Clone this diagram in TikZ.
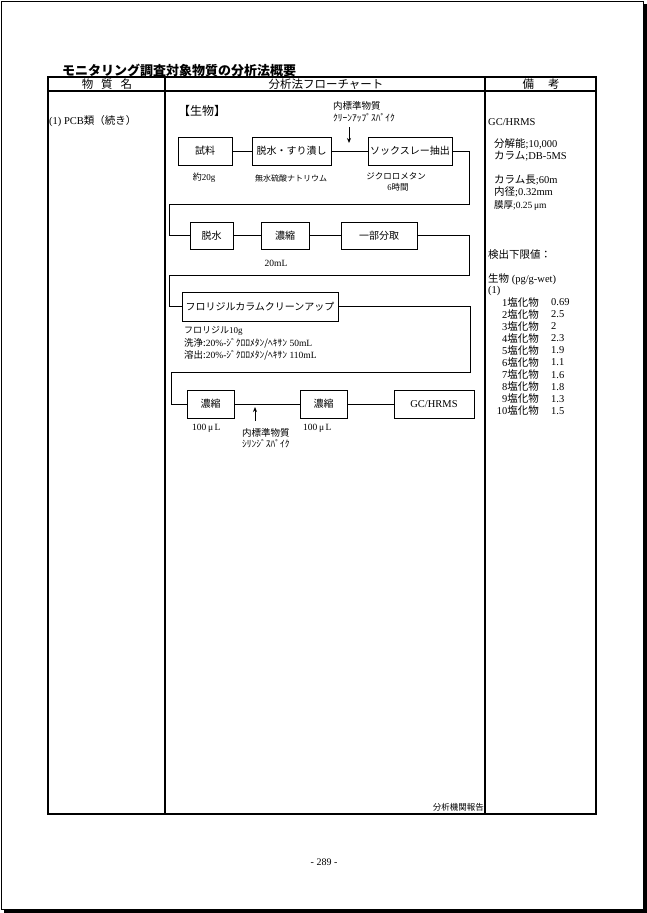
\documentclass[tikz,border=0pt]{standalone}
\usepackage{fontspec}
\setmainfont{Liberation Serif}
\newfontfamily\jpfont{Noto Sans CJK JP}
\newcommand\jp[1]{{\jpfont #1}}
\usetikzlibrary{arrows.meta, positioning}

\begin{document}
\begin{tikzpicture}[
    x=1pt, y=-1pt,
    >={Stealth[length=5pt, width=4pt]},
    stepbox/.style={draw, line width=0.9pt, minimum height=28pt, inner sep=2pt,
        font=\jpfont\fontsize{10}{12}\selectfont},
    note/.style={inner sep=0pt, font=\fontsize{9.5}{11}\selectfont},
    small/.style={inner sep=0pt, anchor=west, font=\fontsize{9.5}{11}\selectfont},
    remark/.style={inner sep=0pt, anchor=west, font=\fontsize{10.5}{12}\selectfont},
    head/.style={inner sep=0pt, font=\jpfont\fontsize{11.5}{13}\selectfont},
    flow/.style={line width=0.9pt},
    frame/.style={line width=1.1pt}
]
\useasboundingbox (0,0) rectangle (647,913);
% page outline with shadow
\draw[line width=0.8pt] (1.5,1.5) rectangle (643,909);
\fill (643,4) -- (647,4) -- (647,913) -- (4,913) -- (4,909) -- (643,909) -- cycle;

% title and table
\node[inner sep=0pt, anchor=west, font=\jpfont\bfseries\fontsize{13}{15}\selectfont] (title) at (62,70) {モニタリング調査対象物質の分析法概要};
\draw[frame] (48,77) rectangle (596,814);
\draw[frame] (48,91) -- (596,91);
\draw[frame] (165,77) -- (165,814);
\draw[frame] (485,77) -- (485,814);
\node[head] (hsubst) at (107,84) {物\hspace{8pt}質\hspace{8pt}名};
\node[head] (hflow) at (326,84) {分析法フローチャート};
\node[head] (hnote) at (541,84) {備\hspace{14pt}考};

\node[remark] (subst) at (49,121) {(1) PCB\jp{類（続き）}};
\node[inner sep=0pt, anchor=west, font=\jpfont\fontsize{12}{14}\selectfont] (matrix) at (178,111) {【生物】};

% row 1
\node[stepbox, minimum width=54pt] (sample) at (205,151) {試料};
\node[stepbox, minimum width=79pt] (grind) at (291.5,151) {脱水・すり潰し};
\node[stepbox, minimum width=84pt] (soxhlet) at (410,151) {ソックスレー抽出};
\node[note, font=\fontsize{9}{10}\selectfont] (samplenote) at (204,178) {\jp{約}20g};
\node[note, font=\fontsize{8}{10}\selectfont] (grindnote) at (291,178) {\jp{無水硫酸ナトリウム}};
\node[note, font=\fontsize{8.5}{10}\selectfont] (soxnote) at (396,176) {\jp{ジクロロメタン}};
\node[note, font=\fontsize{8.5}{10}\selectfont] (soxtime) at (398,187) {6\jp{時間}};
\node[small, font=\jpfont\fontsize{9.5}{11}\selectfont] (spikeA) at (333,106) {内標準物質};
\node[small, font=\jpfont\fontsize{9.5}{11}\selectfont] (spikeAsub) at (333,118) {ｸﾘｰﾝｱｯﾌﾟｽﾊﾟｲｸ};
\coordinate (spikeAtop) at (349,127);
\coordinate (spikeAtip) at (349,143);

% row 2
\node[stepbox, minimum width=43pt, minimum height=27pt] (dry) at (211.5,235.5) {脱水};
\node[stepbox, minimum width=48pt, minimum height=27pt] (concA) at (285,235.5) {濃縮};
\node[stepbox, minimum width=76pt, minimum height=27pt] (split) at (379,235.5) {一部分取};
\node[note] (concAnote) at (276,263) {20mL};

% row 3
\node[stepbox, minimum width=156pt, minimum height=29pt] (florisil) at (260,306.5) {フロリジルカラムクリーンアップ};
\node[small, font=\fontsize{9}{11}\selectfont] (florA) at (184,331) {\jp{フロリジル}10g};
\node[small] (florB) at (184,343) {\jp{洗浄:}20\%-\jp{ｼﾞｸﾛﾛﾒﾀﾝ/ﾍｷｻﾝ} 50mL};
\node[small] (florC) at (184,355) {\jp{溶出:}20\%-\jp{ｼﾞｸﾛﾛﾒﾀﾝ/ﾍｷｻﾝ} 110mL};

% row 4
\node[stepbox, minimum width=47pt] (concB) at (210.5,404) {濃縮};
\node[stepbox, minimum width=47pt] (concC) at (323.5,404) {濃縮};
\node[stepbox, minimum width=80pt, font=\fontsize{10.5}{12}\selectfont] (gcms) at (434,404) {GC/HRMS};
\node[small] (concBnote) at (192,428) {100\,μ\,L};
\node[small] (concCnote) at (303,428) {100\,μ\,L};
\node[small, font=\jpfont\fontsize{9.5}{11}\selectfont] (spikeB) at (242,433) {内標準物質};
\node[small, font=\jpfont\fontsize{9.5}{11}\selectfont] (spikeBsub) at (242,444) {ｼﾘﾝｼﾞｽﾊﾟｲｸ};
\coordinate (spikeBbot) at (255,421);
\coordinate (spikeBtip) at (255,407);

% connectors
\draw[flow, ->] (spikeAtop) -- (spikeAtip);
\draw[flow] (sample) -- (grind);
\draw[flow] (grind) -- (soxhlet);
\draw[flow] (soxhlet.east) -| (469,204) -| (169,235.5) -- (dry.west);
\draw[flow] (dry) -- (concA);
\draw[flow] (concA) -- (split);
\draw[flow] (split.east) -| (469,275) -| (169,306.5) -- (florisil.west);
\draw[flow] (florisil.east) -| (470,372) -| (171,404) -- (concB.west);
\draw[flow, ->] (spikeBbot) -- (spikeBtip);
\draw[flow] (concB) -- (concC);
\draw[flow] (concC) -- (gcms);

\node[inner sep=0pt, anchor=east, font=\jpfont\fontsize{8.5}{10}\selectfont] (source) at (484,807) {分析機関報告};

% remarks column
\node[remark] (instr) at (488,122) {GC/HRMS};
\node[remark] (resol) at (494,144) {\jp{分解能};10,000};
\node[remark] (column) at (494,156) {\jp{カラム};DB-5MS};
\node[remark] (collen) at (494,180) {\jp{カラム長};60m};
\node[remark] (coldia) at (494,192) {\jp{内径};0.32mm};
\node[small] (colfilm) at (494,206) {\jp{膜厚};0.25\,μm};
\node[remark] (dl) at (488,255) {\jp{検出下限値：}};
\node[remark] (dlunit) at (488,279) {\jp{生物} (pg/g-wet)};
\node[remark] (dlset) at (488,291) {(1)};
\foreach \n/\v [count=\i from 0] in {1/0.69, 2/2.5, 3/2, 4/2.3, 5/1.9, 6/1.1, 7/1.6, 8/1.8, 9/1.3, 10/1.5} {
  \node[remark, anchor=east] (cl\n) at (539,302+12.1*\i) {\n\jp{塩化物}};
  \node[remark] (dv\n) at (551,302+12.1*\i) {\v};
}

\node[inner sep=0pt, font=\fontsize{10}{12}\selectfont] (page) at (324,862) {- 289 -};
\end{tikzpicture}
\end{document}
